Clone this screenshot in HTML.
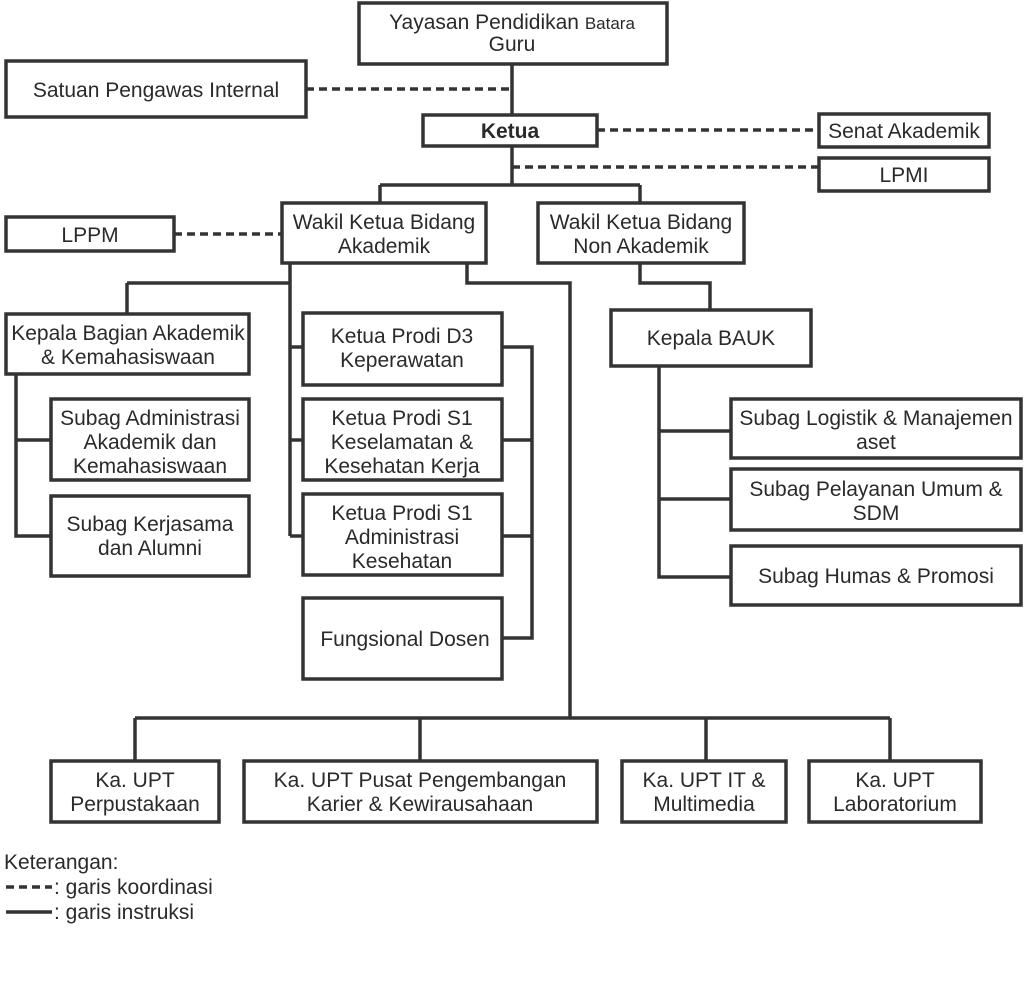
<!DOCTYPE html>
<html><head><meta charset="utf-8"><style>
html,body{margin:0;padding:0;background:#fff}
svg text{font-family:"Liberation Sans",sans-serif;fill:#2a2a2a;font-size:21px;text-anchor:middle}
</style></head><body>
<svg width="1024" height="979" xmlns="http://www.w3.org/2000/svg">
<g fill="none" stroke="#333" stroke-width="3.5">
<rect x="359" y="3" width="308" height="61"/>
<rect x="6" y="61" width="300" height="56"/>
<rect x="423" y="115" width="174" height="31"/>
<rect x="819" y="114" width="170" height="33"/>
<rect x="819" y="158" width="170" height="33"/>
<rect x="282" y="203" width="204" height="60"/>
<rect x="538" y="203" width="206" height="60"/>
<rect x="6" y="217" width="168" height="34"/>
<rect x="6" y="314" width="243" height="60"/>
<rect x="51" y="399" width="198" height="81"/>
<rect x="51" y="496" width="198" height="80"/>
<rect x="303" y="313" width="199" height="72"/>
<rect x="303" y="399" width="199" height="81"/>
<rect x="303" y="494" width="199" height="81"/>
<rect x="303" y="598" width="199" height="81"/>
<rect x="611" y="310" width="200" height="56"/>
<rect x="731" y="399" width="290" height="59"/>
<rect x="731" y="469" width="290" height="61"/>
<rect x="731" y="546" width="290" height="59"/>
<rect x="51" y="761" width="168" height="61"/>
<rect x="244" y="761" width="353" height="61"/>
<rect x="622" y="761" width="164" height="61"/>
<rect x="809" y="761" width="172" height="61"/>
</g>
<g fill="none" stroke="#333" stroke-width="3.5">
<path d="M512 64V115M512 146V185M380 185H640M380 185V203M640 185V203"/>
<path d="M290 263V536M127 283H290M127 283V314M290 347H303M290 440H303M290 536H303"/>
<path d="M467 263V283H570V718M135 718H890M135 718V761M420 718V761M706 718V761M890 718V761"/>
<path d="M502 347H532V638H502M532 440H502M532 536H502"/>
<path d="M16 374V536H51M16 440H51"/>
<path d="M640 263V283H710V310M659 366V577H731M659 431H731M659 499H731"/>
<path d="M6 912H52"/>
</g>
<g fill="none" stroke="#333" stroke-width="3.5" stroke-dasharray="8,5">
<path d="M306 89H512M597 130H819M512 167H819M174 234H282M6 887H52"/>
</g>
<text x="512" y="29"><tspan>Yayasan Pendidikan </tspan><tspan font-size="17">Batara</tspan></text>
<text x="512" y="51" font-size="17">Guru</text>
<text x="156" y="97">Satuan Pengawas Internal</text>
<text x="510" y="138" font-weight="bold">Ketua</text>
<text x="904" y="138">Senat Akademik</text>
<text x="904" y="182">LPMI</text>
<text x="384" y="229">Wakil Ketua Bidang</text>
<text x="384" y="253">Akademik</text>
<text x="641" y="229">Wakil Ketua Bidang</text>
<text x="641" y="253">Non Akademik</text>
<text x="90" y="242">LPPM</text>
<text x="128" y="340">Kepala Bagian Akademik</text>
<text x="128" y="364">&amp; Kemahasiswaan</text>
<text x="150" y="425">Subag Administrasi</text>
<text x="150" y="449">Akademik dan</text>
<text x="150" y="473">Kemahasiswaan</text>
<text x="150" y="531">Subag Kerjasama</text>
<text x="150" y="555">dan Alumni</text>
<text x="402" y="343">Ketua Prodi D3</text>
<text x="402" y="367">Keperawatan</text>
<text x="402" y="425">Ketua Prodi S1</text>
<text x="402" y="449">Keselamatan &amp;</text>
<text x="402" y="473">Kesehatan Kerja</text>
<text x="402" y="520">Ketua Prodi S1</text>
<text x="402" y="544">Administrasi</text>
<text x="402" y="568">Kesehatan</text>
<text x="405" y="646">Fungsional Dosen</text>
<text x="711" y="345">Kepala BAUK</text>
<text x="876" y="425">Subag Logistik &amp; Manajemen</text>
<text x="876" y="449">aset</text>
<text x="876" y="496">Subag Pelayanan Umum &amp;</text>
<text x="876" y="520">SDM</text>
<text x="876" y="583">Subag Humas &amp; Promosi</text>
<text x="135" y="787">Ka. UPT</text>
<text x="135" y="811">Perpustakaan</text>
<text x="420" y="787">Ka. UPT Pusat Pengembangan</text>
<text x="420" y="811">Karier &amp; Kewirausahaan</text>
<text x="704" y="787">Ka. UPT IT &amp;</text>
<text x="704" y="811">Multimedia</text>
<text x="895" y="787">Ka. UPT</text>
<text x="895" y="811">Laboratorium</text>
<text x="4" y="869" style="text-anchor:start" font-size="20">Keterangan:</text>
<text x="54" y="894" style="text-anchor:start" font-size="20">: garis koordinasi</text>
<text x="54" y="919" style="text-anchor:start" font-size="20">: garis instruksi</text>
</svg>
</body></html>
